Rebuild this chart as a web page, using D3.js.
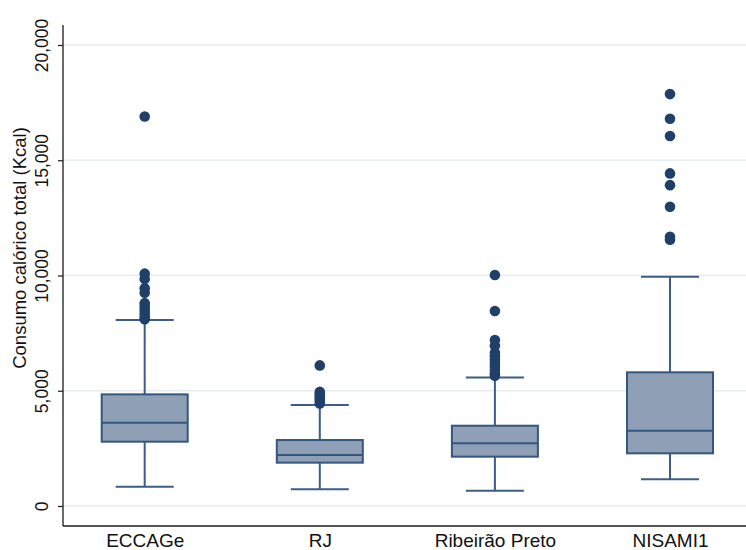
<!DOCTYPE html>
<html>
<head>
<meta charset="utf-8">
<script src="https://cdn.jsdelivr.net/npm/d3@7"></script>
<style>
  html, body { margin: 0; padding: 0; background: #ffffff; }
  svg { display: block; }
  text { font-family: "Liberation Sans", Arial, Helvetica, sans-serif; fill: #111; }
</style>
</head>
<body>
<svg id="chart" width="746" height="550"></svg>
<script>
// Study groups on the x axis
const categories = ["ECCAGe", "RJ", "Ribeirão Preto", "NISAMI1"];

// Box-plot summaries (Kcal): lower whisker, Q1, median, Q3, upper whisker
const lowerWhisker = [838, 723, 665, 1157];
const q1Values     = [2790, 1880, 2140, 2285];
const medians      = [3614, 2212, 2718, 3266];
const q3Values     = [4843, 2862, 3483, 5800];
const upperWhisker = [8066, 4380, 5580, 9945];

// Outside values for each group
const outliersECCAGe   = [8100, 8200, 8350, 8500, 8650, 8800, 9250, 9450, 9850, 10080, 16900];
const outliersRJ       = [4450, 4550, 4650, 4750, 4850, 4950, 6100];
const outliersRibeirao = [5650, 5750, 5900, 6050, 6200, 6350, 6500, 6650, 6950, 7200, 8460, 10020];
const outliersNISAMI   = [11550, 11680, 12980, 13920, 14430, 16050, 16800, 17870];
const outliers = [outliersECCAGe, outliersRJ, outliersRibeirao, outliersNISAMI];

// Y axis ticks
const yTicks = [0, 5000, 10000, 15000, 20000];
const yTitle = "Consumo calórico total (Kcal)";

const plot = { left: 63, right: 746, top: 25, bottom: 526 };

const colors = {
  boxFill: "#8fa0b6",
  boxStroke: "#34577f",
  whisker: "#3b5d86",
  dot: "#1f4068",
  grid: "#e7edef",
  axis: "#1a1a1a"
};

const svg = d3.select("#chart");

const y = d3.scaleLinear().domain([0, 20000]).range([506, 45]);
const x = d3.scalePoint().domain(categories).range([144.7, 670]);

const boxWidth = 86;
const capWidth = 58;

// Gridlines
svg.append("g")
  .selectAll("line")
  .data(yTicks)
  .join("line")
  .attr("x1", plot.left).attr("x2", plot.right)
  .attr("y1", d => y(d)).attr("y2", d => y(d))
  .attr("stroke", colors.grid)
  .attr("stroke-width", 1.5);

// Y axis with vertical tick labels
const yAxis = d3.axisLeft(y)
  .tickValues(yTicks)
  .tickFormat(d3.format(","))
  .tickSize(5)
  .tickPadding(0);

const yAxisG = svg.append("g")
  .attr("transform", `translate(${plot.left},0)`)
  .call(yAxis);
yAxisG.select(".domain").remove();
yAxisG.selectAll(".tick line").attr("stroke", colors.axis).attr("stroke-width", 1.2);
yAxisG.selectAll(".tick text")
  .attr("x", 0).attr("dy", "0.35em")
  .attr("transform", "translate(-21,0) rotate(-90)")
  .attr("text-anchor", "middle")
  .style("font-size", "17.5px")
  .style("fill", "#111");

svg.append("line")
  .attr("x1", plot.left).attr("x2", plot.left)
  .attr("y1", plot.top).attr("y2", plot.bottom)
  .attr("stroke", colors.axis).attr("stroke-width", 1.3);

// X axis
const xAxisG = svg.append("g")
  .attr("transform", `translate(0,${plot.bottom})`)
  .call(d3.axisBottom(x).tickSize(0));
xAxisG.select(".domain").remove();
xAxisG.selectAll(".tick text")
  .attr("y", 21).attr("dy", 0)
  .style("font-size", "19px")
  .style("fill", "#111");

svg.append("line")
  .attr("x1", plot.left).attr("x2", plot.right)
  .attr("y1", plot.bottom).attr("y2", plot.bottom)
  .attr("stroke", colors.axis).attr("stroke-width", 1.3);

// Y axis title
svg.append("text")
  .attr("transform", "translate(20,248) rotate(-90)")
  .attr("text-anchor", "middle")
  .attr("dy", "0.35em")
  .style("font-size", "18.5px")
  .text(yTitle);

// Boxes
const groups = svg.append("g")
  .selectAll("g")
  .data(categories.map((c, i) => ({
    cat: c, lo: lowerWhisker[i], q1: q1Values[i], med: medians[i],
    q3: q3Values[i], hi: upperWhisker[i], out: outliers[i]
  })))
  .join("g")
  .attr("transform", d => `translate(${x(d.cat)},0)`);

// whisker stems
groups.append("line")
  .attr("x1", 0).attr("x2", 0)
  .attr("y1", d => y(d.hi)).attr("y2", d => y(d.q3))
  .attr("stroke", colors.whisker).attr("stroke-width", 2);
groups.append("line")
  .attr("x1", 0).attr("x2", 0)
  .attr("y1", d => y(d.q1)).attr("y2", d => y(d.lo))
  .attr("stroke", colors.whisker).attr("stroke-width", 2);

// whisker caps
groups.append("line")
  .attr("x1", -capWidth / 2).attr("x2", capWidth / 2)
  .attr("y1", d => y(d.hi)).attr("y2", d => y(d.hi))
  .attr("stroke", colors.whisker).attr("stroke-width", 2);
groups.append("line")
  .attr("x1", -capWidth / 2).attr("x2", capWidth / 2)
  .attr("y1", d => y(d.lo)).attr("y2", d => y(d.lo))
  .attr("stroke", colors.whisker).attr("stroke-width", 2);

// IQR box
groups.append("rect")
  .attr("x", -boxWidth / 2)
  .attr("width", boxWidth)
  .attr("y", d => y(d.q3))
  .attr("height", d => y(d.q1) - y(d.q3))
  .attr("fill", colors.boxFill)
  .attr("stroke", colors.boxStroke)
  .attr("stroke-width", 2);

// median
groups.append("line")
  .attr("x1", -boxWidth / 2).attr("x2", boxWidth / 2)
  .attr("y1", d => y(d.med)).attr("y2", d => y(d.med))
  .attr("stroke", colors.boxStroke).attr("stroke-width", 2);

// outside values
groups.append("g")
  .selectAll("circle")
  .data(d => d.out)
  .join("circle")
  .attr("cx", 0)
  .attr("cy", v => y(v))
  .attr("r", 5.3)
  .attr("fill", colors.dot);
</script>
</body>
</html>
